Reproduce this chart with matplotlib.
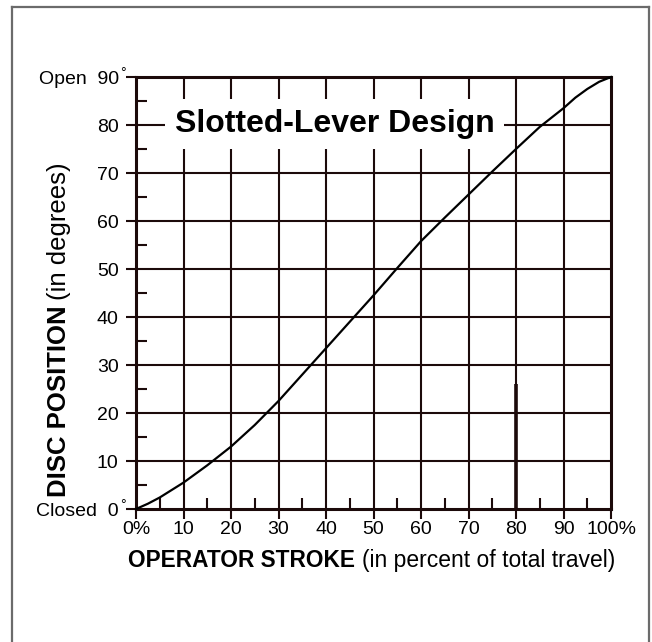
import numpy as np
import matplotlib.pyplot as plt
from matplotlib.lines import Line2D

### Data
stroke = [0, 2.5, 5, 10, 15, 20, 25, 30, 35, 40, 45, 50, 55, 60, 65, 70, 75, 80, 85, 90, 92.5, 95, 97.5, 100]
disc = [0, 1.1, 2.4, 5.5, 9.1, 13.0, 17.5, 22.5, 28.0, 33.5, 39.0, 44.5, 50.2, 55.8, 60.7, 65.5, 70.3, 75.0, 79.6, 83.5, 85.7, 87.5, 89.0, 90]

x_major = [0, 10, 20, 30, 40, 50, 60, 70, 80, 90, 100]
x_labels = ['0%', '10', '20', '30', '40', '50', '60', '70', '80', '90', '100%']
y_major = [0, 10, 20, 30, 40, 50, 60, 70, 80, 90]
y_labels = ['Closed  0', '10', '20', '30', '40', '50', '60', '70', '80', 'Open  90']
x_minor = [5, 15, 25, 35, 45, 55, 65, 75, 85, 95]
y_minor = [5, 15, 25, 35, 45, 55, 65, 75, 85]

# a thicker stretch of the 80% grid line in the original
over_x = 80
over_top = 26

ink = '#1c0a0a'
W, H = 652, 642
plt.rcParams['font.family'] = ['Liberation Sans', 'DejaVu Sans']

fig = plt.figure(figsize=(W / 100, H / 100), dpi=100)
ax = fig.add_axes([136 / W, 1 - 509 / H, 475 / W, 432 / H])

ax.set_xlim(0, 100)
ax.set_ylim(0, 90)

### grid
for gx in x_major[1:-1]:
    ax.axvline(gx, color=ink, lw=1.5, zorder=1)
for gy in y_major[1:-1]:
    ax.axhline(gy, color=ink, lw=1.5, zorder=1)
ax.plot([over_x, over_x], [0, over_top], color=ink, lw=2.6, zorder=1, solid_capstyle='butt')

for s in ax.spines.values():
    s.set_color(ink)
    s.set_linewidth(2.2)

ax.set_xticks(x_major)
ax.set_xticklabels(x_labels)
ax.set_yticks(y_major)
ax.set_yticklabels(y_labels)
ax.set_xticks(x_minor, minor=True)
ax.set_yticks(y_minor, minor=True)
ax.tick_params(which='major', direction='out', length=7, width=1.5, color=ink,
               labelsize=14, labelcolor='black')
ax.tick_params(axis='x', which='major', pad=1.5)
ax.tick_params(axis='y', which='major', pad=5.5)
ax.tick_params(which='minor', direction='in', length=8, width=1.5, color=ink)

### the curve
ax.plot(stroke, disc, color='black', lw=1.6, zorder=3, clip_on=False)

### degree signs on the end labels
fig.text(120 / W, 1 - 66 / H, '°', fontsize=10, ha='left', va='top')
fig.text(120 / W, 1 - 498 / H, '°', fontsize=10, ha='left', va='top')

### title with white box
fig.text(175 / W, 1 - 132 / H, 'Slotted-Lever Design', fontsize=23, fontweight='bold',
         ha='left', va='baseline',
         bbox=dict(boxstyle='square,pad=0.3', facecolor='white', edgecolor='none'))

### axis labels
fig.text(128 / W, 1 - 567 / H, 'OPERATOR STROKE', fontsize=16.3, fontweight='bold',
         ha='left', va='baseline')
fig.text(362 / W, 1 - 567 / H, '(in percent of total travel)', fontsize=16.5,
         ha='left', va='baseline')
fig.text(66 / W, 1 - 497 / H, 'DISC POSITION', fontsize=18.5, fontweight='bold',
         rotation=90, rotation_mode='anchor', ha='left', va='baseline')
fig.text(66 / W, 1 - 300 / H, '(in degrees)', fontsize=18.5,
         rotation=90, rotation_mode='anchor', ha='left', va='baseline')

### grey frame
frame = '#6b6b6b'
fig.add_artist(Line2D([12 / W, 12 / W], [0, 1 - 7 / H], color=frame, lw=1.6))
fig.add_artist(Line2D([12 / W, 649 / W], [1 - 7 / H, 1 - 7 / H], color=frame, lw=1.6))
fig.add_artist(Line2D([649 / W, 649 / W], [0, 1 - 7 / H], color=frame, lw=1.6))

plt.savefig('out.png', dpi=100)
